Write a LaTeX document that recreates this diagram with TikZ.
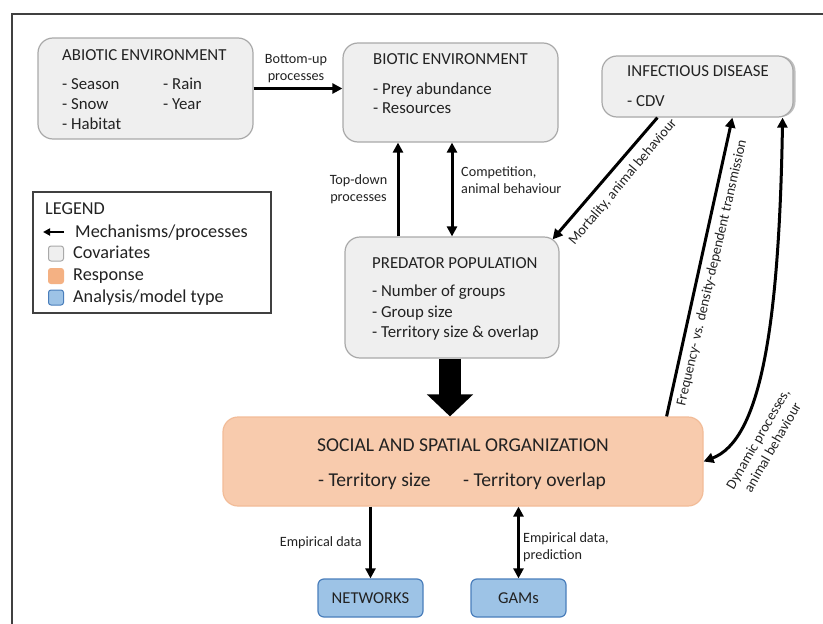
\documentclass[tikz,border=0pt]{standalone}
\usepackage{fontspec}
\setmainfont{Carlito}
\usepackage{xcolor}
\definecolor{BoxGray}{HTML}{EFEFEF}
\definecolor{EdgeGray}{HTML}{A9A9A9}
\definecolor{RespFill}{HTML}{F8CBAD}
\definecolor{RespEdge}{HTML}{F2BC98}
\definecolor{RespKey}{HTML}{F4B183}
\definecolor{ModelFill}{HTML}{9DC3E6}
\definecolor{ModelEdge}{HTML}{4A7EBB}
\definecolor{FrameDark}{HTML}{404040}
\definecolor{InkDark}{HTML}{222222}
\usetikzlibrary{positioning,arrows.meta,shadows}

\begin{document}
\begin{tikzpicture}[x=1pt, y=-1pt,
        covariate/.style={rectangle, draw=EdgeGray, fill=BoxGray, rounded corners=15pt, line width=1.2pt, inner sep=0pt},
        response/.style={rectangle, draw=RespEdge, fill=RespFill, rounded corners=15pt, line width=1.2pt, inner sep=0pt},
        model/.style={rectangle, draw=ModelEdge, fill=ModelFill, rounded corners=6pt, line width=1.2pt, inner sep=0pt, text=InkDark, font=\fontsize{16.6}{19}\selectfont},
        txt/.style={anchor=base west, inner sep=0pt, text=InkDark, font=\fontsize{16.8}{19}\selectfont},
        bigtxt/.style={txt, font=\fontsize{19.6}{23}\selectfont},
        legtxt/.style={txt, font=\fontsize{18.2}{21}\selectfont},
        legkey/.style={rectangle, minimum size=15pt, rounded corners=2.5pt, line width=1pt, inner sep=0pt},
        lbl/.style={inner sep=0pt, text=InkDark, font=\fontsize{14.2}{16.8}\selectfont},
        link/.style={line width=3pt, -{Triangle[length=10pt,width=10pt]}},
        duallink/.style={line width=3pt, {Triangle[length=10pt,width=10pt]}-{Triangle[length=10pt,width=10pt]}}
    ]
        \useasboundingbox (0,0) rectangle (823,624);
        \draw[FrameDark, line width=2pt] (12,624) -- (12,14) -- (823,14);

        % Covariate boxes
        \node[covariate, minimum width=215pt, minimum height=101pt] (abiotic) at (145.5,88.5) {};
        \node[covariate, minimum width=215pt, minimum height=99pt] (biotic) at (450.5,92.5) {};
        \node[covariate, minimum width=191pt, minimum height=61pt, drop shadow={shadow xshift=2.5pt, shadow yshift=0pt, fill=black!50}] (infect) at (697.5,86.5) {};
        \node[covariate, minimum width=214pt, minimum height=121pt] (predator) at (452,297.5) {};

        \node[txt] at (62,60) {ABIOTIC ENVIRONMENT};
        \node[txt] at (62,89.5) {- Season};
        \node[txt] at (62,109) {- Snow};
        \node[txt] at (62,129) {- Habitat};
        \node[txt] at (163,89.5) {- Rain};
        \node[txt] at (163,109) {- Year};

        \node[txt] at (373,64) {BIOTIC ENVIRONMENT};
        \node[txt] at (373,94) {- Prey abundance};
        \node[txt] at (373,113) {- Resources};

        \node[txt] at (627,76) {INFECTIOUS DISEASE};
        \node[txt] at (627,106) {- CDV};

        \node[txt] at (372,268) {PREDATOR POPULATION};
        \node[txt] at (372,296) {- Number of groups};
        \node[txt] at (372,317) {- Group size};
        \node[txt] at (372,337) {- Territory size \& overlap};

        % Response
        \node[response, minimum width=480pt, minimum height=89pt] (social) at (463,461.5) {};
        \node[bigtxt] at (317,451) {SOCIAL AND SPATIAL ORGANIZATION};
        \node[bigtxt] at (318,486) {- Territory size};
        \node[bigtxt] at (463,486) {- Territory overlap};

        % Analysis / model type
        \node[model, minimum width=105pt, minimum height=38pt] (networks) at (370.5,598) {NETWORKS};
        \node[model, minimum width=95pt, minimum height=38pt] (gams) at (518.5,598) {GAMs};

        % Flows
        \draw[link, line width=3.5pt] (abiotic.east) -- (abiotic.east -| biotic.west);
        \node[lbl, align=center] (bottomup) at (296,68.5) {Bottom-up\\processes};

        \draw[link] ([xshift=-54pt]predator.north) -- ([xshift=-54pt]predator.north |- biotic.south);
        \node[lbl, align=center] (topdown) at (358.5,189) {Top-down\\processes};

        \draw[duallink] (predator.north) -- (predator.north |- biotic.south);
        \node[lbl, align=left, anchor=west] (competition) at (461,180.5) {Competition,\\animal behaviour};

        \draw[link] ([xshift=56pt]infect.south west) -- ([xshift=-7pt,yshift=-3pt]predator.north east);
        \node[lbl, rotate=50] (mortality) at (623,182) {Mortality, animal behaviour};

        \draw[link] ([xshift=-37pt]social.north east) -- ([xshift=131pt]infect.south west);
        \node[lbl, rotate=77] (frequency) at (712,273) {Frequency- vs. density-dependent transmission};

        \draw[duallink] ([xshift=-11pt]infect.south east) .. controls (779,330) and (760,440) .. (social.east);
        \node[lbl, rotate=60, align=center] (dynamic) at (765,443) {Dynamic processes,\\animal behaviour};

        \draw[line width=22pt, -{Triangle[length=22pt,width=45pt]}] ([xshift=-2pt]predator.south) -- ([xshift=-2pt]predator.south |- social.north);

        \draw[link] (networks.north |- social.south) -- (networks.north);
        \node[lbl, anchor=base east] (empirical) at (362,546) {Empirical data};

        \draw[duallink] (gams.north |- social.south) -- (gams.north);
        \node[lbl, align=left, anchor=west] (prediction) at (523,547.5) {Empirical data,\\prediction};

        % Legend
        \node[draw=FrameDark, line width=1.5pt, fill=white, minimum width=238pt, minimum height=121pt, inner sep=0pt] (legend) at (152,252.5) {};
        \node[legtxt] at (45,214) {LEGEND};
        \coordinate (keytail) at (64,232);
        \draw[line width=2pt, -{Triangle[length=7pt,width=7pt]}] (keytail) -- ++(-21,0);
        \node[legtxt] at (75,237) {Mechanisms/processes};
        \node[legkey, draw=EdgeGray, fill=BoxGray] (keycov) at (56,253.5) {};
        \node[legtxt] at (73,258) {Covariates};
        \node[legkey, draw=RespKey, fill=RespKey] (keyresp) at (56,276) {};
        \node[legtxt] at (73,280) {Response};
        \node[legkey, draw=ModelEdge, fill=ModelFill] (keymodel) at (56,297.5) {};
        \node[legtxt] at (73,302) {Analysis/model type};

    \end{tikzpicture}
\end{document}
